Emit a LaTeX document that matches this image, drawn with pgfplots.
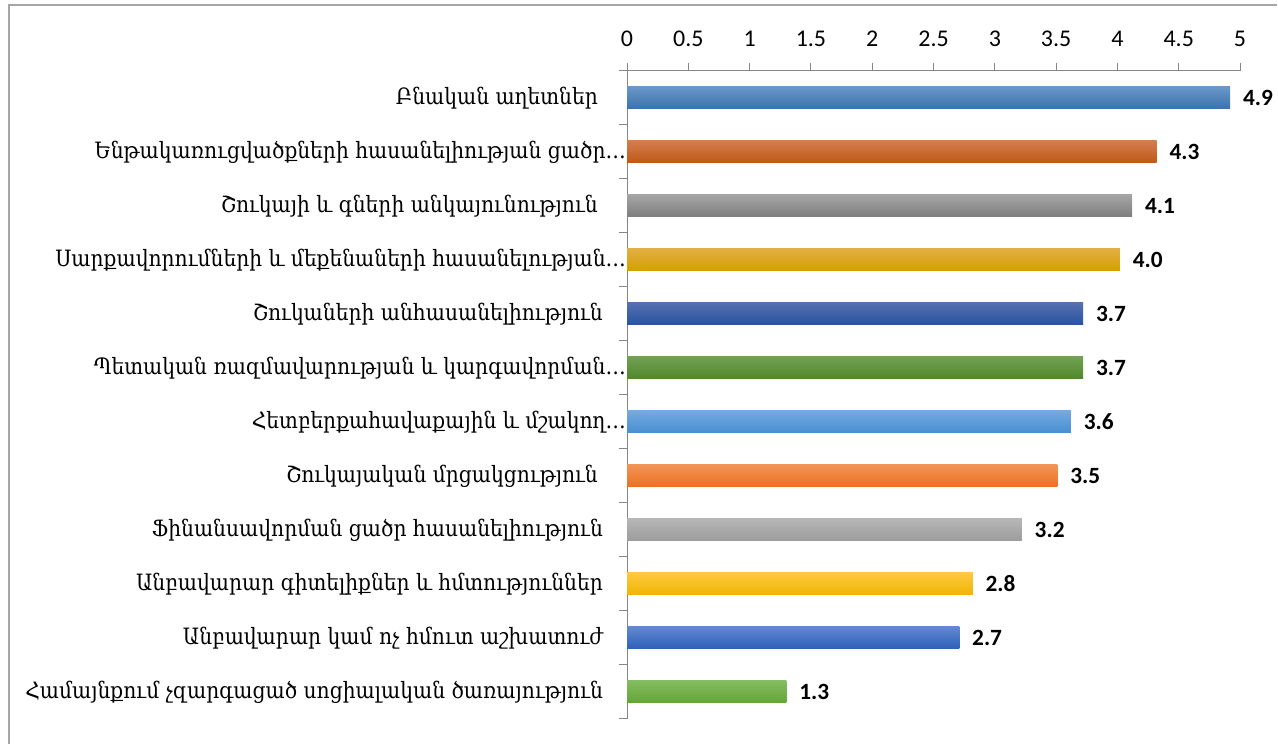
\documentclass[border=0pt]{standalone}
\usepackage{fontspec}
\usepackage{pgfplots}
\pgfplotsset{compat=1.18}
\setmainfont{Carlito}
\newfontfamily\armfont{DejaVu Serif Condensed}

\definecolor{axgray}{RGB}{134,134,134}
\definecolor{framegray}{RGB}{166,166,166}
\definecolor{cAt}{RGB}{106,151,200}\definecolor{cAb}{RGB}{58,114,172}
\definecolor{cBt}{RGB}{210,125,80}\definecolor{cBb}{RGB}{192,88,22}
\definecolor{cCt}{RGB}{165,165,165}\definecolor{cCb}{RGB}{125,125,125}
\definecolor{cDt}{RGB}{226,174,66}\definecolor{cDb}{RGB}{212,160,0}
\definecolor{cEt}{RGB}{85,112,176}\definecolor{cEb}{RGB}{40,82,160}
\definecolor{cFt}{RGB}{115,160,85}\definecolor{cFb}{RGB}{78,136,40}
\definecolor{cGt}{RGB}{115,170,225}\definecolor{cGb}{RGB}{72,142,208}
\definecolor{cHt}{RGB}{242,148,88}\definecolor{cHb}{RGB}{235,112,30}
\definecolor{cIt}{RGB}{182,182,182}\definecolor{cIb}{RGB}{156,156,156}
\definecolor{cJt}{RGB}{255,200,64}\definecolor{cJb}{RGB}{238,182,0}
\definecolor{cKt}{RGB}{98,136,208}\definecolor{cKb}{RGB}{45,95,184}
\definecolor{cLt}{RGB}{132,188,96}\definecolor{cLb}{RGB}{98,166,54}

\begin{document}
\begin{tikzpicture}
\begin{axis}[
  scale only axis, width=460.5pt, height=486.75pt,
  xmin=0, xmax=5, ymin=-0.5, ymax=11.5, y dir=reverse,
  axis x line*=top, axis y line*=left,
  axis line style={draw=axgray, line width=0.75pt},
  tick align=outside,
  xtick={0,0.5,1,1.5,2,2.5,3,3.5,4,4.5,5},
  xticklabels={0,0.5,1,1.5,2,2.5,3,3.5,4,4.5,5},
  xtick style={draw=axgray, line width=0.75pt},
  major tick length=6pt, minor tick length=6pt,
  ytick={0,1,2,3,4,5,6,7,8,9,10,11},
  minor ytick={-0.5,0.5,1.5,2.5,3.5,4.5,5.5,6.5,7.5,8.5,9.5,10.5,11.5},
  major y tick style={draw=none},
  minor y tick style={draw=axgray, line width=0.75pt},
  yticklabels={
    {Բնական աղետներ\kern3.75pt},
    {Ենթակառուցվածքների հասանելիության ցածր…\kern-17.25pt},
    {Շուկայի և գների անկայունություն\kern3.75pt},
    {Սարքավորումների և մեքենաների հասանելության…\kern-17.25pt},
    {Շուկաների անհասանելիություն},
    {Պետական ռազմավարության և կարգավորման…\kern-17.25pt},
    {Հետբերքահավաքային և մշակող…\kern-17.25pt},
    {Շուկայական մրցակցություն\kern3.75pt},
    {Ֆինանսավորման ցածր հասանելիություն},
    {Անբավարար գիտելիքներ և հմտություններ},
    {Անբավարար կամ ոչ հմուտ աշխատուժ},
    {Համայնքում չզարգացած սոցիալական ծառայություն}},
  yticklabel style={font=\armfont\fontsize{16.9}{19}\selectfont, anchor=east, inner sep=0pt, xshift=-12pt},
  xticklabel style={font=\fontsize{18}{20}\selectfont, anchor=base, inner sep=0pt, yshift=12pt},
  /pgf/number format/assume math mode=true,
  xbar, bar width=16.5pt, bar shift=0pt,
  point meta=x,
  nodes near coords={\pgfmathprintnumber[fixed,fixed zerofill,precision=1]{\pgfplotspointmeta}},
  every node near coord/.append style={font=\bfseries\fontsize{17.5}{20}\selectfont, anchor=west, inner sep=0pt, xshift=9.5pt, text=black},
  clip=false,
]
\addplot[draw=none, top color=cAt, bottom color=cAb] coordinates {(4.92,0)};
\addplot[draw=none, top color=cBt, bottom color=cBb] coordinates {(4.32,1)};
\addplot[draw=none, top color=cCt, bottom color=cCb] coordinates {(4.12,2)};
\addplot[draw=none, top color=cDt, bottom color=cDb] coordinates {(4.02,3)};
\addplot[draw=none, top color=cEt, bottom color=cEb] coordinates {(3.72,4)};
\addplot[draw=none, top color=cFt, bottom color=cFb] coordinates {(3.72,5)};
\addplot[draw=none, top color=cGt, bottom color=cGb] coordinates {(3.62,6)};
\addplot[draw=none, top color=cHt, bottom color=cHb] coordinates {(3.51,7)};
\addplot[draw=none, top color=cIt, bottom color=cIb] coordinates {(3.22,8)};
\addplot[draw=none, top color=cJt, bottom color=cJb] coordinates {(2.82,9)};
\addplot[draw=none, top color=cKt, bottom color=cKb] coordinates {(2.71,10)};
\addplot[draw=none, top color=cLt, bottom color=cLb] coordinates {(1.30,11)};
\end{axis}
\path (current axis.north west) ++(-470.25pt,53.25pt) coordinate (TL);
\path (current axis.south east) ++(27.75pt,-18.75pt) coordinate (BR);
\path (TL) rectangle (BR);
\draw[framegray, line width=1.5pt] (TL |- BR) ++(6pt,0) |- ([yshift=-3.75pt]BR |- TL);
\end{tikzpicture}
\end{document}
